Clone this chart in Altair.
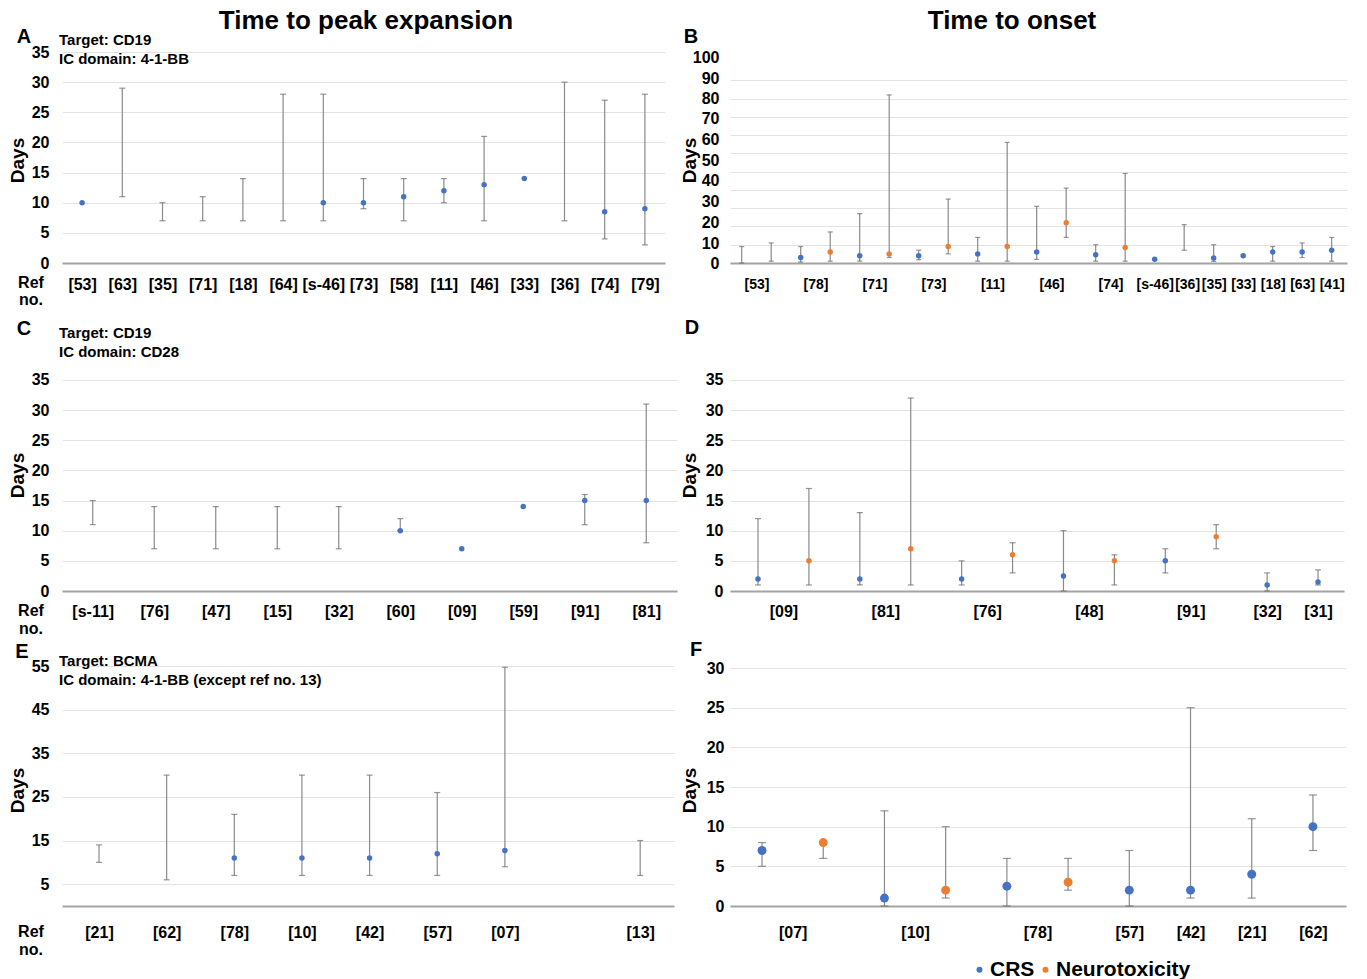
import altair as alt
import pandas as pd

FONT = "Liberation Sans"
BLUE = "#4472C4"
ORANGE = "#ED7D31"
RULE = "#8a8a8a"
CAP = "#6a6a6a"
GRID = "#e3e3e3"
BASE = "#a3a3a3"

# ---------------- Panel A : time to peak expansion, CD19 / 4-1-BB
A_refs = ["[53]", "[63]", "[35]", "[71]", "[18]", "[64]", "[s-46]", "[73]", "[58]",
          "[11]", "[46]", "[33]", "[36]", "[74]", "[79]"]
A_low = [None, 11, 7, 7, 7, 7, 7, 9, 7, 10, 7, None, 7, 4, 3]
A_high = [None, 29, 10, 11, 14, 28, 28, 14, 14, 14, 21, None, 30, 27, 28]
A_med = [10, None, None, None, None, None, 10, 10, 11, 12, 13, 14, None, 8.5, 9]
A_ticks = [0, 5, 10, 15, 20, 25, 30, 35]

# ---------------- Panel B : time to onset, CD19 / 4-1-BB
B_refs = ["[53]", "[78]", "[71]", "[73]", "[11]", "[46]", "[74]", "[s-46]", "[36]",
          "[35]", "[33]", "[18]", "[63]", "[41]"]
B_label_slot = [0.5, 2.5, 4.5, 6.5, 8.5, 10.5, 12.5, 14, 15.1, 16, 17, 18, 19, 20]
B_type = ["CRS", "Neurotoxicity"] * 7 + ["CRS"] * 7
B_low = [0, 1, 0.5, 1, 1, 3, 1.8, 5, 1, 1, 2, 14, 1, 1, None, 7, 0.9, None, 1, 3, 1]
B_high = [9, 11, 9, 17, 27, 92, 7, 35, 14, 66, 31, 41, 10, 49, None, 21, 10, None, 9, 11, 14]
B_med = [None, None, 3, 6, 4, 5, 4, 9, 5, 9, 6, 22, 4.5, 8.5, 2, None, 2.7, 4, 6, 6, 7]
B_ticks = [0, 10, 20, 30, 40, 50, 60, 70, 80, 90, 100]
B_label_shift = [0, -1, -4, -7, -9, -11, -14, -17, -18, -20, -23]

# ---------------- Panel C : time to peak expansion, CD19 / CD28
C_refs = ["[s-11]", "[76]", "[47]", "[15]", "[32]", "[60]", "[09]", "[59]", "[91]", "[81]"]
C_low = [11, 7, 7, 7, 7, 10, None, None, 11, 8]
C_high = [15, 14, 14, 14, 14, 12, None, None, 16, 31]
C_med = [None, None, None, None, None, 10, 7, 14, 15, 15]
C_ticks = [0, 5, 10, 15, 20, 25, 30, 35]

# ---------------- Panel D : time to onset, CD19 / CD28
D_refs = ["[09]", "[81]", "[76]", "[48]", "[91]", "[32]", "[31]"]
D_label_slot = [0.5, 2.5, 4.5, 6.5, 8.5, 10, 11]
D_type = ["CRS", "Neurotoxicity"] * 5 + ["CRS", "CRS"]
D_low = [1, 1, 1, 1, 1, 3, 0, 1, 3, 7, 0, 1]
D_high = [12, 17, 13, 32, 5, 8, 10, 6, 7, 11, 3, 3.5]
D_med = [2, 5, 2, 7, 2, 6, 2.5, 5, 5, 9, 1, 1.5]
D_ticks = [0, 5, 10, 15, 20, 25, 30, 35]

# ---------------- Panel E : time to peak expansion, BCMA
E_refs = ["[21]", "[62]", "[78]", "[10]", "[42]", "[57]", "[07]", "[13]"]
E_slot = [0, 1, 2, 3, 4, 5, 6, 8]
E_low = [10, 6, 7, 7, 7, 7, 9, 7]
E_high = [14, 30, 21, 30, 30, 26, 54.7, 15]
E_med = [None, None, 11, 11, 11, 12, 12.7, None]
E_ticks = [5, 15, 25, 35, 45, 55]

# ---------------- Panel F : time to onset, BCMA
F_refs = ["[07]", "[10]", "[78]", "[57]", "[42]", "[21]", "[62]"]
F_label_slot = [0.5, 2.5, 4.5, 6, 7, 8, 9]
F_type = ["CRS", "Neurotoxicity"] * 3 + ["CRS"] * 4
F_low = [5, 6, 0, 1, 0, 2, 0, 1, 1, 7]
F_high = [8, 8, 12, 10, 6, 6, 7, 25, 11, 14]
F_med = [7, 8, 1, 2, 2.5, 3, 2, 2, 4, 10]
F_ticks = [0, 5, 10, 15, 20, 25, 30]

ONE = pd.DataFrame({"k": [0]})

COLOR_SCALE = alt.Scale(domain=["CRS", "Neurotoxicity"], range=[BLUE, ORANGE])
LEGEND = alt.Legend(title=None, orient="none", legendX=907, legendY=907,
                    direction="horizontal", labelFont=FONT, labelFontSize=21,
                    labelFontWeight="bold", labelColor="#000", symbolType="circle",
                    symbolSize=36, symbolStrokeWidth=0, columnPadding=0,
                    labelOffset=0, padding=0, labelLimit=0)


def label_expr(pos, txt):
    arr_p = "[" + ",".join(str(p) for p in pos) + "]"
    arr_t = "[" + ",".join("'" + t + "'" for t in txt) + "]"
    return arr_t + "[indexof(" + arr_p + ", datum.value)]"


def txt(s, x, y, size, align="left"):
    return alt.Chart(ONE).mark_text(
        text=s, font=FONT, fontSize=size, fontWeight="bold", align=align,
        baseline="middle", color="#000"
    ).encode(x=alt.value(x), y=alt.value(y))


def panel(slots, low, high, med, types, label_pos, label_txt, xdom, ydom, yticks,
          w, h, pt_size, cap_size, ylabpad, xlabpad, days_xy, notes,
          label_shift=None, colored=False, xfont=16):
    df = pd.DataFrame({"slot": slots, "low": low, "high": high, "med": med,
                       "type": types})
    xaxis = alt.Axis(values=label_pos, labelExpr=label_expr(label_pos, label_txt),
                     grid=False, ticks=False, tickSize=0, domain=True,
                     domainColor=BASE, domainWidth=2, labelFont=FONT,
                     labelFontSize=xfont, labelFontWeight="bold", labelColor="#000",
                     labelBaseline="middle", labelPadding=xlabpad, labelFlush=False,
                     labelOverlap=False, title=None)
    yaxis_kw = dict(values=yticks, grid=True, gridColor=GRID, gridWidth=1,
                    domain=False, ticks=False, tickSize=0, labelFont=FONT,
                    labelFontSize=16, labelFontWeight="bold", labelColor="#000",
                    labelPadding=ylabpad, labelFlush=False, labelOverlap=False,
                    title="Days", titleFont=FONT, titleFontSize=19,
                    titleFontWeight="bold", titleColor="#000", titleAngle=270,
                    titleAlign="center", titleBaseline="middle",
                    titleX=days_xy[0], titleY=days_xy[1])
    if label_shift is not None:
        yaxis_kw["labelOffset"] = {
            "condition": [{"test": "datum.value === %s" % v, "value": s}
                          for v, s in zip(yticks, label_shift)],
            "value": 0}
    yaxis = alt.Axis(**yaxis_kw)
    xs = alt.Scale(domain=xdom, nice=False, zero=False)
    ys = alt.Scale(domain=ydom, nice=False, zero=False)
    X = alt.X("slot:Q", scale=xs, axis=xaxis)

    base = alt.Chart(df)
    rules = base.mark_rule(color=RULE, strokeWidth=1.2).encode(
        x=X, y=alt.Y("low:Q", scale=ys, axis=yaxis), y2="high:Q")
    cap_lo = base.mark_tick(orient="horizontal", size=cap_size, thickness=1.2,
                            color=CAP).encode(
        x=X, y=alt.Y("low:Q", scale=ys, axis=yaxis))
    cap_hi = base.mark_tick(orient="horizontal", size=cap_size, thickness=1.2,
                            color=CAP).encode(
        x=X, y=alt.Y("high:Q", scale=ys, axis=yaxis))
    if colored:
        col = alt.Color("type:N", scale=COLOR_SCALE, legend=LEGEND)
    else:
        col = alt.value(BLUE)
    pts = base.mark_circle(size=pt_size, opacity=1).encode(
        x=X, y=alt.Y("med:Q", scale=ys, axis=yaxis), color=col)
    layers = [rules, cap_lo, cap_hi, pts] + [txt(*n) for n in notes]
    return alt.layer(*layers).properties(width=w, height=h)


hA, hC, hE = 211, 253, 240
TY = -31

pA = panel(list(range(15)), A_low, A_high, A_med, ["CRS"] * 15,
           list(range(15)), A_refs, [-0.5, 14.5], [0, 35], A_ticks,
           603, hA, 30, 6, 13, 21, (-45, 108),
           [("Time to peak expansion", 304, TY, 26, "center"),
            ("A", -38, -15, 20, "center"),
            ("Target: CD19", -3, -12, 15), ("IC domain: 4-1-BB", -3, 7, 15),
            ("Ref", -31, hA + 20, 16, "center"), ("no.", -31, hA + 37, 16, "center")])

pB = panel(list(range(21)), B_low, B_high, B_med, B_type,
           B_label_slot, B_refs, [-0.397, 20.52], [0, 115.5], B_ticks,
           617, hA, 30, 5, 11, 21, (-41, 108),
           [("Time to onset", 282, TY, 26, "center"),
            ("B", -39, -15, 20, "center")],
           label_shift=B_label_shift, colored=True, xfont=14)

pC = panel(list(range(10)), C_low, C_high, C_med, ["CRS"] * 10,
           list(range(10)), C_refs, [-0.5, 9.5], [0, 41.96], C_ticks,
           615, hC, 30, 6, 13, 20, (-45, 137),
           [("C", -38, -9, 20, "center"),
            ("Target: CD19", -3, -5, 15), ("IC domain: CD28", -3, 14, 15),
            ("Ref", -31, hC + 20, 16, "center"), ("no.", -31, hC + 38, 16, "center")])

pD = panel(list(range(12)), D_low, D_high, D_med, D_type,
           D_label_slot, D_refs, [-0.55, 11.51], [0, 41.96], D_ticks,
           614, hC, 30, 6, 7, 20, (-41, 137),
           [("D", -38, -10, 20, "center")], colored=True)

pE = panel(E_slot, E_low, E_high, E_med, ["CRS"] * 8,
           E_slot, E_refs, [-0.547, 8.5], [0, 55], E_ticks,
           612, hE, 30, 6, 13, 26, (-45, 124),
           [("E", -40, -14, 20, "center"),
            ("Target: BCMA", -3, -5, 15),
            ("IC domain: 4-1-BB (except ref no. 13)", -3, 14, 15),
            ("Ref", -31, hE + 26, 16, "center"), ("no.", -31, hE + 44, 16, "center")])

pF = panel(list(range(10)), F_low, F_high, F_med, F_type,
           F_label_slot, F_refs, [-0.523, 9.54], [0, 30.26], F_ticks,
           616, hE, 80, 8, 6, 26, (-41, 124),
           [("F", -34, -16, 20, "center")], colored=True)

chart = alt.concat(pA, pB, pC, pD, pE, pF, columns=2,
                   spacing={"row": 75, "column": 53}, bounds="flush").properties(
    padding={"left": 0, "top": 0, "right": 5, "bottom": 5}
).configure_view(stroke=None)

chart.save("out.html", embed_options={"renderer": "svg", "actions": False})
